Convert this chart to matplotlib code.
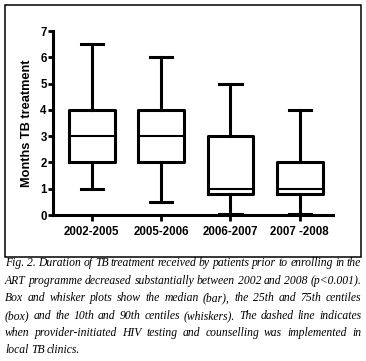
import matplotlib
matplotlib.use("Agg")
import matplotlib.pyplot as plt
from matplotlib.patches import Rectangle

# data
periods = ["2002-2005", "2005-2006", "2006-2007", "2007 -2008"]
p10 = [1.0, 0.5, 0.05, 0.05]
p25 = [2.0, 2.0, 0.8, 0.8]
median = [3.0, 3.0, 1.0, 1.0]
p75 = [4.0, 4.0, 3.0, 2.0]
p90 = [6.5, 6.0, 5.0, 4.0]

caption_lines = [
    "Fig. 2. Duration of TB treatment received by patients prior to enrolling in the",
    "ART programme decreased substantially between 2002 and 2008 (p<0.001).",
    "Box and whisker plots show the median (bar), the 25th and 75th centiles",
    "(box) and the 10th and 90th centiles (whiskers). The dashed line indicates",
    "when provider-initiated HIV testing and counselling was implemented in",
    "local TB clinics.",
]

W, H = 366, 361
fig = plt.figure(figsize=(W / 100, H / 100), dpi=100)

# outer frame around the chart
fig.patches.append(Rectangle((5 / W, 104 / H), 356 / W, 252 / H, transform=fig.transFigure,
                             fill=False, edgecolor="black", linewidth=1.1))

ax = fig.add_axes([53 / W, 146 / H, 280 / W, 184 / H])

stats = []
for lab, lo, q1, med, q3, hi in zip(periods, p10, p25, median, p75, p90):
    stats.append({"label": lab, "whislo": lo, "q1": q1, "med": med, "q3": q3, "whishi": hi, "fliers": []})

art = ax.bxp(stats, positions=[1, 2, 3, 4], widths=0.66, capwidths=0.32, showfliers=False,
             boxprops=dict(color="black", linewidth=2.2),
             whiskerprops=dict(color="black", linewidth=2.2),
             capprops=dict(color="black", linewidth=2.2),
             medianprops=dict(color="black", linewidth=1.5))
for key in ["boxes", "whiskers", "caps", "medians"]:
    for a in art[key]:
        a.set_clip_on(False)

ax.set_xlim(0.44, 4.48)
ax.set_ylim(0, 7)
ax.set_yticks(range(8))
ax.spines["top"].set_visible(False)
ax.spines["right"].set_visible(False)
ax.spines["left"].set_linewidth(2.2)
ax.spines["bottom"].set_linewidth(2.2)
ax.tick_params(axis="y", length=3.5, width=2.0, pad=1, labelsize=8.3)
ax.tick_params(axis="x", length=4, width=2.0, pad=4, labelsize=8.3)
for t in ax.get_xticklabels() + ax.get_yticklabels():
    t.set_fontfamily("Liberation Sans")
    t.set_fontweight("bold")
ax.set_ylabel("Months TB treatment", fontfamily="Liberation Sans", fontweight="bold", fontsize=9.2)
ax.yaxis.set_label_coords(-0.072, 0.5)

# justified caption: pick the largest size that leaves a small gap between words
renderer = fig.canvas.get_renderer()
left, right = 5, 361
min_gap = 2.4
cap_font = dict(fontfamily="Liberation Serif", style="italic", va="center", ha="left")
probe = fig.text(0, 0, "x", fontsize=10, **cap_font)
size = 10.0
for line in caption_lines[:-1]:
    words = line.split(" ")
    total = 0
    for w in words:
        probe.set_text(w)
        total += probe.get_window_extent(renderer).width
    fit = 10 * (right - left - min_gap * (len(words) - 1)) / total
    size = min(size, fit)
probe.remove()

tops = [263, 281, 298, 316, 333, 350]
for i, (line, yc) in enumerate(zip(caption_lines, tops)):
    words = line.split(" ")
    texts = [fig.text(0, 1 - yc / H, w, fontsize=size, **cap_font) for w in words]
    widths = [t.get_window_extent(renderer).width for t in texts]
    if i == len(caption_lines) - 1:
        space = size * 0.3
    else:
        space = (right - left - sum(widths)) / (len(words) - 1)
    x = left
    for t, w in zip(texts, widths):
        t.set_x(x / W)
        x += w + space

fig.savefig("out.png", dpi=100)
